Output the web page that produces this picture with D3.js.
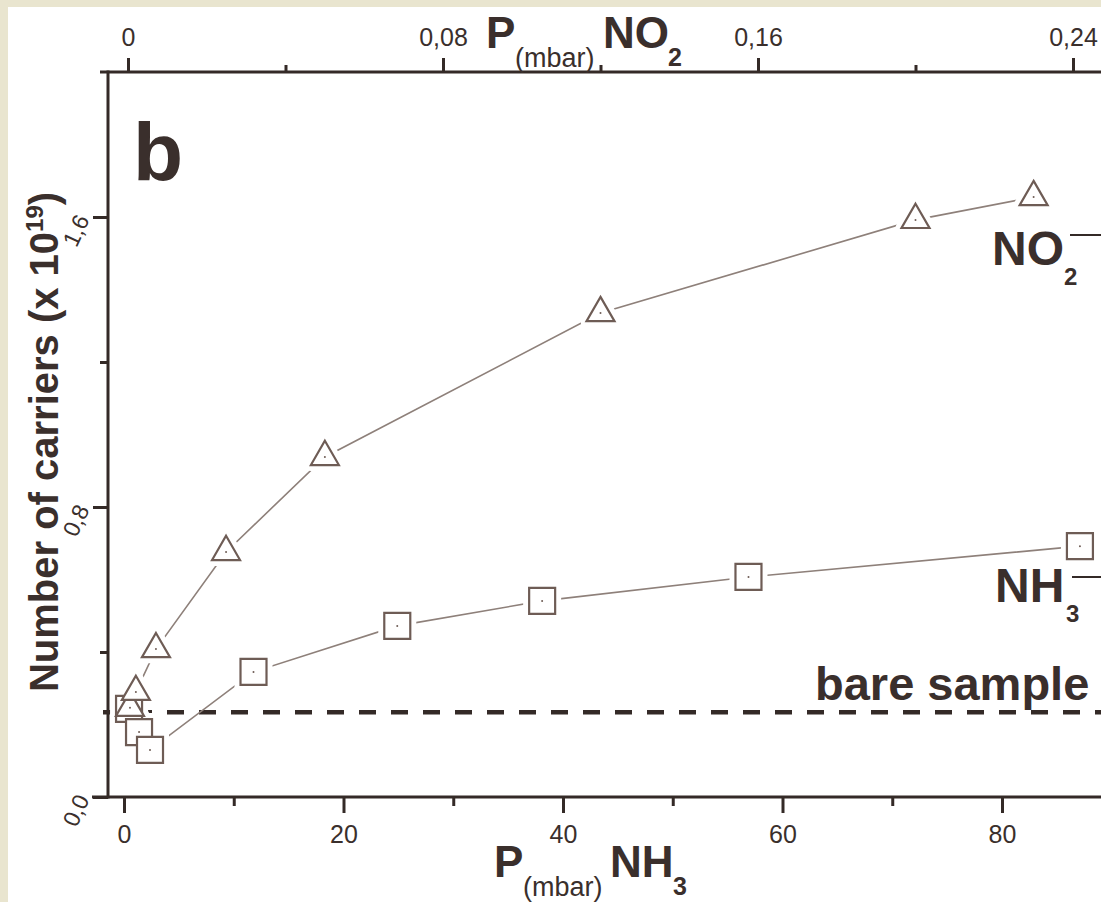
<!DOCTYPE html>
<html>
<head>
<meta charset="utf-8">
<script src="https://cdn.jsdelivr.net/npm/d3@7"></script>
<style>
    html, body { margin: 0; padding: 0; background: #e9e5cf; }
    svg { display: block; }
    text { font-family: "Liberation Sans", Arial, Helvetica, sans-serif; fill: #3a2f2c; }
</style>
</head>
<body>
<svg id="chart" width="1101" height="902"></svg>
<script>
// NH3 exposure (bottom axis, mbar) -> number of carriers (x 10^19)
const nh3Pressure = [0.46, 1.37, 2.37, 11.8, 24.9, 38.1, 56.9, 87.1]
const nh3Carriers = [0.243, 0.179, 0.130, 0.345, 0.472, 0.541, 0.607, 0.692]

// NO2 exposure (top axis, mbar)
const no2Pressure = [0.0005, 0.002, 0.0071, 0.0249, 0.050, 0.120, 0.200, 0.230]
const no2Carriers = [0.246, 0.290, 0.408, 0.676, 0.938, 1.335, 1.592, 1.655]

const bareSample = 0.234

const nh3TicksMajor = [0, 20, 40, 60, 80]
const nh3TicksMinor = [10, 30, 50, 70]
const no2TicksMajor = [0, 0.08, 0.16, 0.24]
const no2TicksMinor = [0.04, 0.12, 0.20]
const yTicksMajor = [0, 0.8, 1.6]
const yTicksMinor = [0.4, 1.2]

const ink = "#342a27",
    markColor = "#6e5c55",
    lineColor = "#8e807a"

const svg = d3.select("#chart")
const width = 1101, height = 902

svg.append("rect")
    .attr("x", 8).attr("y", 7)
    .attr("width", width - 8).attr("height", height - 7)
    .attr("fill", "#ffffff")

const plotLeft = 108, plotTop = 72, plotBottom = 797

let xNH3 = d3.scaleLinear().domain([0, 80]).range([124, 1002])
let xNO2 = d3.scaleLinear().domain([0, 0.24]).range([128, 1073])
let y = d3.scaleLinear().domain([0, 2]).range([plotBottom, plotTop])

const comma = d3.formatLocale({decimal: ",", thousands: ".", grouping: [3], currency: ["", ""]})

function styleAxis(g, size) {
    g.select(".domain").remove()
    g.selectAll("line").attr("stroke", ink).attr("stroke-width", 3)
    g.selectAll("text")
        .attr("fill", ink)
        .style("font-size", size + "px")
        .style("font-family", '"Liberation Sans", Arial, sans-serif')
}

// bottom axis (NH3)
svg.append("g").attr("transform", `translate(0,${plotBottom})`)
    .call(d3.axisBottom(xNH3).tickValues(nh3TicksMinor).tickSize(9).tickFormat(""))
    .call(g => styleAxis(g, 25))
svg.append("g").attr("transform", `translate(0,${plotBottom})`)
    .call(d3.axisBottom(xNH3).tickValues(nh3TicksMajor).tickSize(16).tickPadding(12).tickFormat(d3.format("d")))
    .call(g => styleAxis(g, 25))

// top axis (NO2)
svg.append("g").attr("transform", `translate(0,${plotTop})`)
    .call(d3.axisTop(xNO2).tickValues(no2TicksMinor).tickSize(7).tickFormat(""))
    .call(g => styleAxis(g, 25))
svg.append("g").attr("transform", `translate(0,${plotTop})`)
    .call(d3.axisTop(xNO2).tickValues(no2TicksMajor).tickSize(14).tickPadding(12)
        .tickFormat(d => d === 0 ? "0" : comma.format(".2f")(d)))
    .call(g => styleAxis(g, 25))

// left axis
svg.append("g").attr("transform", `translate(${plotLeft},0)`)
    .call(d3.axisLeft(y).tickValues(yTicksMinor).tickSize(8).tickFormat(""))
    .call(g => styleAxis(g, 23))
svg.append("g").attr("transform", `translate(${plotLeft},0)`)
    .call(d3.axisLeft(y).tickValues(yTicksMajor).tickSize(15).tickFormat(comma.format(".1f")))
    .call(g => styleAxis(g, 23))
    .call(g => g.selectAll("text")
        .attr("x", null).attr("dy", null)
        .attr("text-anchor", "middle")
        .attr("dominant-baseline", "central")
        .attr("transform", "translate(-32,13) rotate(-65)"))

// axis lines
svg.append("line").attr("x1", 92).attr("x2", width).attr("y1", plotBottom).attr("y2", plotBottom)
    .attr("stroke", ink).attr("stroke-width", 3)
svg.append("line").attr("x1", 100).attr("x2", width).attr("y1", plotTop).attr("y2", plotTop)
    .attr("stroke", ink).attr("stroke-width", 3)
svg.append("line").attr("x1", plotLeft).attr("x2", plotLeft).attr("y1", plotTop - 1.5).attr("y2", plotBottom + 1.5)
    .attr("stroke", ink).attr("stroke-width", 3)

// bare sample level
svg.append("line")
    .attr("x1", 103).attr("x2", width)
    .attr("y1", y(bareSample)).attr("y2", y(bareSample))
    .attr("stroke", ink).attr("stroke-width", 4.5)
    .attr("stroke-dasharray", "17,15")

const nh3 = nh3Pressure.map((p, i) => ({x: xNH3(p), y: y(nh3Carriers[i])}))
const no2 = no2Pressure.map((p, i) => ({x: xNO2(p), y: y(no2Carriers[i])}))

let linePath = d3.line().x(d => d.x).y(d => d.y)

svg.append("path").attr("d", linePath(nh3))
    .attr("fill", "none").attr("stroke", lineColor).attr("stroke-width", 1.6)
svg.append("path").attr("d", linePath(no2))
    .attr("fill", "none").attr("stroke", lineColor).attr("stroke-width", 1.6)

const square = d3.symbol().type(d3.symbolSquare).size(26 * 26)
const triangle = d3.symbol().type(d3.symbolTriangle).size(28 * 28 * Math.sqrt(3) / 4)

// white halos so the lines stop short of the markers
svg.append("g").selectAll("path").data(nh3).join("path")
    .attr("transform", d => `translate(${d.x},${d.y})`)
    .attr("d", square).attr("fill", "#fff").attr("stroke", "#fff").attr("stroke-width", 12)
svg.append("g").selectAll("path").data(no2).join("path")
    .attr("transform", d => `translate(${d.x},${d.y})`)
    .attr("d", triangle).attr("fill", "#fff").attr("stroke", "#fff").attr("stroke-width", 12)
    .attr("stroke-linejoin", "round")

function drawMarks(data, shape) {
    let g = svg.append("g")
    g.selectAll("path").data(data).join("path")
        .attr("transform", d => `translate(${d.x},${d.y})`)
        .attr("d", shape)
        .attr("fill", "#fff").attr("stroke", markColor).attr("stroke-width", 2.2)
    g.selectAll("circle").data(data).join("circle")
        .attr("cx", d => d.x).attr("cy", d => d.y).attr("r", 1)
        .attr("fill", markColor)
}
drawMarks(nh3, square)
drawMarks(no2, triangle)

// panel letter
svg.append("text").attr("x", 133).attr("y", 180)
    .style("font-size", "82px").style("font-weight", "bold").text("b")

// series labels
const no2Label = svg.append("text").attr("x", 992).attr("y", 265)
    .style("font-weight", "bold")
no2Label.append("tspan").style("font-size", "48px").text("NO")
no2Label.append("tspan").attr("x", 1064).attr("y", 285).style("font-size", "24px").text("2")
svg.append("line").attr("x1", 1070).attr("x2", width).attr("y1", 235).attr("y2", 235)
    .attr("stroke", ink).attr("stroke-width", 2)

const nh3Label = svg.append("text").attr("x", 995).attr("y", 602)
    .style("font-weight", "bold")
nh3Label.append("tspan").style("font-size", "48px").text("NH")
nh3Label.append("tspan").attr("x", 1066).attr("y", 622).style("font-size", "24px").text("3")
svg.append("line").attr("x1", 1072).attr("x2", width).attr("y1", 577).attr("y2", 577)
    .attr("stroke", ink).attr("stroke-width", 2)

svg.append("text").attr("x", 815).attr("y", 700)
    .style("font-size", "47px").style("font-weight", "bold").text("bare sample")

// axis titles
const topTitle = svg.append("text").attr("y", 48)
topTitle.append("tspan").attr("x", 486).style("font-size", "44px").style("font-weight", "bold").text("P")
topTitle.append("tspan").attr("x", 515).attr("y", 67).style("font-size", "27px").text("(mbar)")
topTitle.append("tspan").attr("x", 603).attr("y", 48).style("font-size", "44px").style("font-weight", "bold").text("NO")
topTitle.append("tspan").attr("x", 668).attr("y", 66).style("font-size", "25px").style("font-weight", "bold").text("2")

const bottomTitle = svg.append("text").attr("y", 877)
bottomTitle.append("tspan").attr("x", 494).style("font-size", "44px").style("font-weight", "bold").text("P")
bottomTitle.append("tspan").attr("x", 523).attr("y", 896).style("font-size", "27px").text("(mbar)")
bottomTitle.append("tspan").attr("x", 610).attr("y", 877).style("font-size", "44px").style("font-weight", "bold").text("NH")
bottomTitle.append("tspan").attr("x", 673).attr("y", 895).style("font-size", "25px").style("font-weight", "bold").text("3")

const yTitle = svg.append("text")
    .attr("transform", "translate(58,442) rotate(-90)")
    .attr("text-anchor", "middle")
    .style("font-size", "40px").style("font-weight", "bold")
yTitle.append("tspan").text("Number of carriers (x 10")
yTitle.append("tspan").attr("dy", -15).style("font-size", "24px").text("19")
yTitle.append("tspan").attr("dy", 15).text(")")
</script>
</body>
</html>
